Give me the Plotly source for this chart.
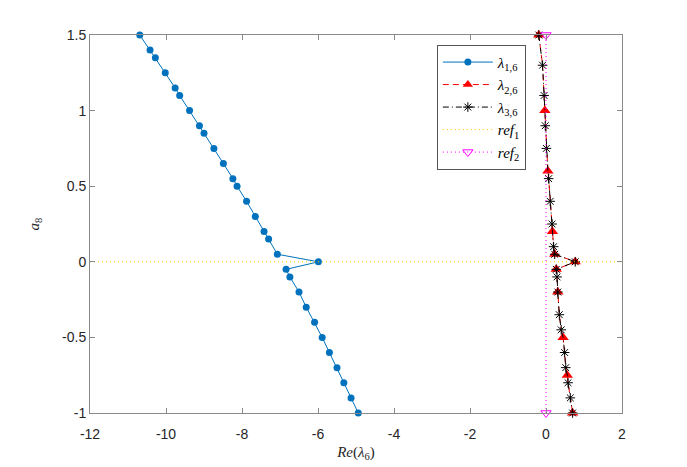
import plotly.graph_objects as go

# ---- data ----
a8_blue = [1.5, 1.4, 1.35, 1.25, 1.15, 1.1, 1.0, 0.9, 0.85, 0.75, 0.65, 0.55, 0.5, 0.4, 0.3,
           0.2, 0.15, 0.05, 0.0, -0.05, -0.1, -0.2, -0.3, -0.4, -0.5, -0.6, -0.7, -0.8, -0.9, -1.0]
re_lam1 = [-10.69, -10.42, -10.28, -10.02, -9.76, -9.64, -9.38, -9.12, -9.00, -8.74, -8.49,
           -8.24, -8.13, -7.88, -7.65, -7.42, -7.30, -7.07, -5.99, -6.84, -6.74, -6.50, -6.31,
           -6.09, -5.89, -5.70, -5.50, -5.32, -5.13, -4.94]

a8_right = [1.5, 1.3, 1.1, 1.0, 0.9, 0.75, 0.6, 0.55, 0.4, 0.25, 0.2, 0.1, 0.05, 0.0, -0.05,
            -0.1, -0.2, -0.35, -0.45, -0.5, -0.6, -0.7, -0.75, -0.8, -0.9, -1.0]
re_lam2 = [-0.19, -0.09, -0.05, -0.03, -0.02, 0.01, 0.05, 0.07, 0.11, 0.16, 0.17, 0.20, 0.23,
           0.77, 0.27, 0.29, 0.31, 0.35, 0.40, 0.45, 0.49, 0.52, 0.56, 0.58, 0.64, 0.70]
re_lam3 = [-0.19, -0.09, -0.05, -0.03, -0.02, 0.01, 0.05, 0.07, 0.11, 0.16, 0.17, 0.20, 0.23,
           0.77, 0.27, 0.29, 0.31, 0.35, 0.40, 0.45, 0.49, 0.52, 0.56, 0.58, 0.64, 0.70]
tri_idx = [0, 3, 6, 10, 12, 13, 14, 16, 19, 22, 25]
star_idx = [0, 1, 2, 4, 5, 7, 8, 9, 11, 12, 13, 14, 15, 16, 17, 18, 20, 21, 23, 24, 25]

ref1_x = [-12, 2]
ref1_y = [0, 0]
ref2_x = [0, 0]
ref2_y = [-1, 1.5]

x_ticks = [-12, -10, -8, -6, -4, -2, 0, 2]
y_ticks = [-1, -0.5, 0, 0.5, 1, 1.5]

names = ["<i>λ</i><sub>1,6</sub>", "<i>λ</i><sub>2,6</sub>", "<i>λ</i><sub>3,6</sub>",
         "<i>ref</i><sub>1</sub>", "<i>ref</i><sub>2</sub>"]

BLUE = "#0072BD"
RED = "#FF0000"
BLACK = "#000000"
YELLOW = "#FFC800"
MAGENTA = "#FF00FF"
TXT = "#262626"
AX = "#8a8a8a"

fig = go.Figure()

# lambda_1,6
fig.add_trace(go.Scatter(x=re_lam1, y=a8_blue, mode="lines+markers", name=names[0],
                         line=dict(color=BLUE, width=1),
                         marker=dict(symbol="circle", size=7, color=BLUE),
                         cliponaxis=False))

# lambda_2,6 : line through all, markers at subset
fig.add_trace(go.Scatter(x=re_lam2, y=a8_right, mode="lines", showlegend=False,
                         line=dict(color=RED, width=1, dash="6px,4px")))
fig.add_trace(go.Scatter(x=[re_lam2[i] for i in tri_idx], y=[a8_right[i] for i in tri_idx],
                         mode="markers", showlegend=False,
                         marker=dict(symbol="triangle-up", size=10, color=RED),
                         cliponaxis=False))
fig.add_trace(go.Scatter(x=[None], y=[None], mode="lines+markers", name=names[1],
                         line=dict(color=RED, width=1, dash="6px,4px"),
                         marker=dict(symbol="triangle-up", size=9, color=RED)))

# lambda_3,6
fig.add_trace(go.Scatter(x=re_lam3, y=a8_right, mode="lines", showlegend=False,
                         line=dict(color=BLACK, width=1, dash="6px,3px,1px,3px")))
fig.add_trace(go.Scatter(x=[re_lam3[i] for i in star_idx], y=[a8_right[i] for i in star_idx],
                         mode="markers", showlegend=False,
                         marker=dict(symbol="asterisk-open", size=8, color=BLACK,
                                     line=dict(color=BLACK, width=1)),
                         cliponaxis=False))
fig.add_trace(go.Scatter(x=[None], y=[None], mode="lines+markers", name=names[2],
                         line=dict(color=BLACK, width=1, dash="6px,3px,1px,3px"),
                         marker=dict(symbol="asterisk-open", size=8, color=BLACK,
                                     line=dict(color=BLACK, width=1))))

# ref1
fig.add_trace(go.Scatter(x=ref1_x, y=ref1_y, mode="lines", name=names[3],
                         line=dict(color=YELLOW, width=1, dash="1px,3px")))
# ref2
fig.add_trace(go.Scatter(x=ref2_x, y=ref2_y, mode="lines+markers", name=names[4],
                         line=dict(color=MAGENTA, width=1, dash="1px,3px"),
                         marker=dict(symbol="triangle-down-open", size=9, color=MAGENTA,
                                     line=dict(color=MAGENTA, width=1)),
                         cliponaxis=False))

axis_common = dict(showgrid=False, zeroline=False, showline=True, linecolor=AX, linewidth=1,
                   mirror="allticks", ticks="inside", ticklen=5, tickcolor=AX, tickwidth=1,
                   automargin=False,
                   tickfont=dict(family="Liberation Sans, Arial, sans-serif", size=14, color=TXT))

# the page body has an 8px margin, so the figure is sized 8px smaller
fig.update_layout(
    width=679, height=459,
    margin=dict(l=82, r=65, t=27, b=54, autoexpand=False),
    paper_bgcolor="white", plot_bgcolor="white",
    xaxis=dict(range=[-12, 2], tickvals=x_ticks, ticktext=[str(v) for v in x_ticks],
               ticklabelstandoff=8,
               title=dict(text="<i>Re</i>(<i>λ</i><sub>6</sub>)", standoff=5,
                          font=dict(family="Liberation Serif, serif", size=15, color=TXT)),
               **axis_common),
    yaxis=dict(range=[-1, 1.5], tickvals=y_ticks, ticktext=[str(v) for v in y_ticks],
               title=dict(text="<i>a</i><sub>8</sub>", standoff=18,
                          font=dict(family="Liberation Serif, serif", size=15, color=TXT)),
               **axis_common),
    legend=dict(x=0.652, y=0.974, xanchor="left", yanchor="top",
                bgcolor="white", bordercolor="#555555", borderwidth=1,
                font=dict(family="Liberation Serif, serif", size=15, color=BLACK),
                itemwidth=50, tracegroupgap=0),
    showlegend=True,
)

fig.write_html("out.html")
